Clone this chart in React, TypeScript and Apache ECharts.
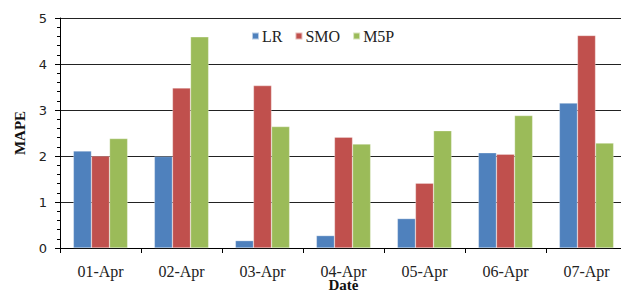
import React, { useEffect, useRef } from "react";
import * as echarts from "echarts";

const categories = ["01-Apr", "02-Apr", "03-Apr", "04-Apr", "05-Apr", "06-Apr", "07-Apr"];
const lrValues = [2.11, 1.99, 0.16, 0.27, 0.64, 2.07, 3.15];
const smoValues = [2.0, 3.48, 3.53, 2.41, 1.41, 2.04, 4.62];
const m5pValues = [2.38, 4.59, 2.64, 2.26, 2.55, 2.88, 2.28];
const yTicks = { min: 0, max: 5, interval: 1 };

export default function App() {
  const ref = useRef<HTMLDivElement>(null);
  useEffect(() => {
    if (!ref.current) return;
    const chart = echarts.init(ref.current, undefined, { renderer: "svg" });
    const serif = "'Liberation Serif', 'Times New Roman', serif";
    const barStyle = (color: string) => ({ color, borderColor: "rgba(255,255,255,0.6)", borderWidth: 0.5 });
    chart.setOption({
      animation: false,
      backgroundColor: "#fff",
      grid: { left: 60, right: -6, top: 18, bottom: 45, containLabel: false, outerBoundsMode: "none" },
      legend: {
        left: 246,
        top: 23,
        itemWidth: 7,
        itemHeight: 7,
        itemGap: 12,
        icon: "rect",
        textStyle: { fontFamily: serif, fontSize: 16, color: "#222", padding: [0, 0, 0, -2] },
        data: ["LR", "SMO", "M5P"],
      },
      xAxis: {
        type: "category",
        data: categories,
        name: "Date",
        nameLocation: "middle",
        nameGap: 29,
        nameMoveOverlap: false,
        nameTextStyle: { fontFamily: serif, fontSize: 15, fontWeight: "bold", color: "#111" },
        axisLine: { lineStyle: { color: "#000", width: 1 } },
        axisTick: { show: true, length: 5, lineStyle: { color: "#000" } },
        axisLabel: { fontFamily: serif, fontSize: 16, color: "#222", margin: 15 },
      },
      yAxis: {
        type: "value",
        min: yTicks.min,
        max: yTicks.max,
        interval: yTicks.interval,
        name: "MAPE",
        nameLocation: "middle",
        nameGap: 31,
        nameTextStyle: { fontFamily: serif, fontSize: 15, fontWeight: "bold", color: "#111" },
        axisLine: { show: true, lineStyle: { color: "#000", width: 1 } },
        axisTick: { show: true, length: 5, lineStyle: { color: "#000" } },
        minorTick: { show: true, splitNumber: 5, length: 3, lineStyle: { color: "#000" } },
        axisLabel: { fontFamily: "'DejaVu Sans', sans-serif", fontSize: 13, color: "#222", margin: 13 },
        splitLine: { show: true, lineStyle: { color: "#222", width: 1 } },
      },
      series: [
        { name: "LR", type: "bar", data: lrValues, itemStyle: barStyle("#4F81BD"), barGap: "0%", barCategoryGap: "33%" },
        { name: "SMO", type: "bar", data: smoValues, itemStyle: barStyle("#C0504D") },
        { name: "M5P", type: "bar", data: m5pValues, itemStyle: barStyle("#9BBB59") },
      ],
    });
    return () => chart.dispose();
  }, []);
  return <div ref={ref} style={{ position: "fixed", left: 0, top: 0, width: 621, height: 293 }} />;
}
